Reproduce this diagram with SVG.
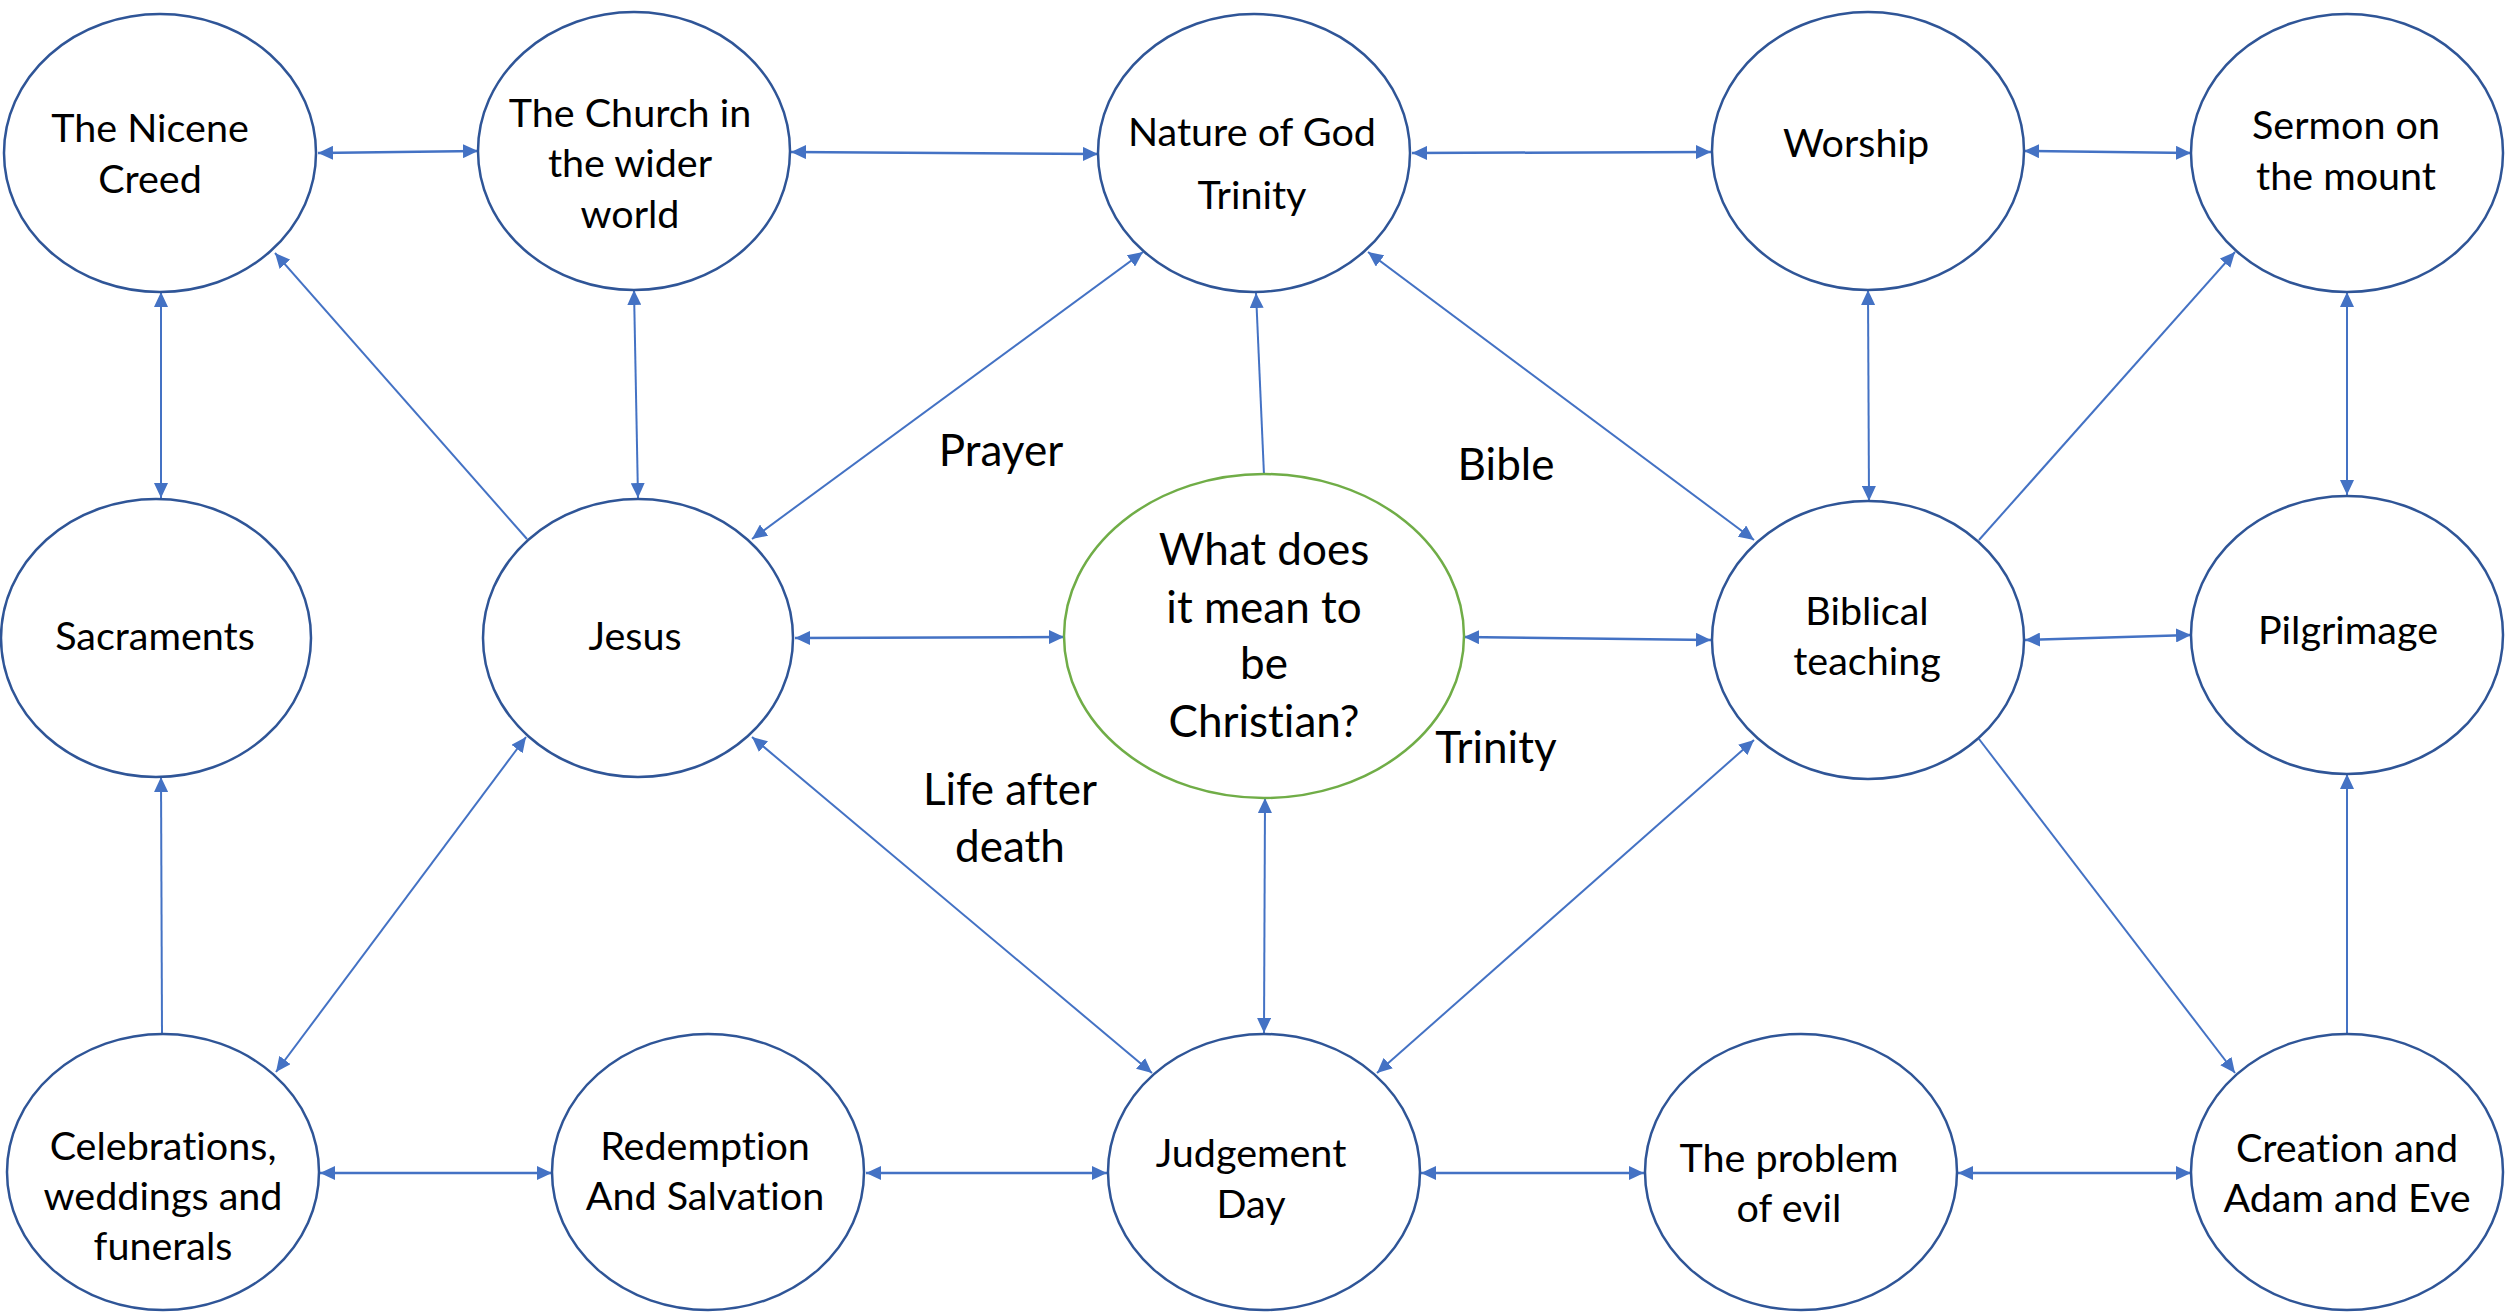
<svg xmlns="http://www.w3.org/2000/svg" width="2509" height="1312" viewBox="0 0 2509 1312">
<defs>
<style>
.n{fill:#fff;stroke:#2F5597;stroke-width:2.5}
.c{fill:#fff;stroke:#70AD47;stroke-width:2.5}
.t,.l{font-family:Lato,"Liberation Sans",sans-serif;fill:#000;text-anchor:middle;font-variant-ligatures:none;font-feature-settings:"liga" 0,"clig" 0}
.t{font-size:39.5px}
.l{font-size:44px}
.e{fill:none;stroke:#4472C4;stroke-width:2}
.h{stroke-width:2.5}
.b{marker-start:url(#ah);marker-end:url(#ah)}
.s{marker-end:url(#ah)}
</style>
<marker id="ah" markerUnits="userSpaceOnUse" markerWidth="16" markerHeight="14" refX="15" refY="7" orient="auto-start-reverse" viewBox="0 0 16 14">
<path d="M0,0 L15,7 L0,14 z" fill="#4472C4"/>
</marker>
</defs>
<rect width="2509" height="1312" fill="#fff"/>
<g id="connectors">
<line class="e h b" x1="318" y1="153" x2="478" y2="151"/>
<line class="e h b" x1="791" y1="152" x2="1098" y2="154"/>
<line class="e h b" x1="1412" y1="153" x2="1711" y2="152"/>
<line class="e h b" x1="2024" y1="151" x2="2191" y2="153"/>
<line class="e b" x1="161" y1="292" x2="161" y2="498"/>
<line class="e b" x1="634" y1="290" x2="638" y2="498"/>
<line class="e s" x1="527" y1="539" x2="275" y2="253"/>
<line class="e b" x1="752" y1="539" x2="1143" y2="252"/>
<line class="e s" x1="1264" y1="475" x2="1256" y2="293"/>
<line class="e b" x1="1754" y1="540" x2="1368" y2="252"/>
<line class="e b" x1="1868" y1="290" x2="1869" y2="501"/>
<line class="e s" x1="1979" y1="540" x2="2235" y2="252"/>
<line class="e b" x1="2347" y1="292" x2="2347" y2="495"/>
<line class="e h b" x1="795" y1="638" x2="1064" y2="637"/>
<line class="e h b" x1="1464" y1="637" x2="1711" y2="640"/>
<line class="e h b" x1="2025" y1="640" x2="2191" y2="635"/>
<line class="e s" x1="162" y1="1033" x2="161" y2="777"/>
<line class="e b" x1="276" y1="1072" x2="526" y2="737"/>
<line class="e b" x1="1152" y1="1073" x2="752" y2="737"/>
<line class="e b" x1="1265" y1="798" x2="1264" y2="1033"/>
<line class="e b" x1="1377" y1="1073" x2="1754" y2="740"/>
<line class="e s" x1="1979" y1="739" x2="2235" y2="1073"/>
<line class="e s" x1="2347" y1="1033" x2="2347" y2="774"/>
<line class="e h b" x1="320" y1="1173" x2="552" y2="1173"/>
<line class="e h b" x1="866" y1="1173" x2="1107" y2="1173"/>
<line class="e h b" x1="1421" y1="1173" x2="1644" y2="1173"/>
<line class="e h b" x1="1958" y1="1173" x2="2191" y2="1173"/>
</g>
<g id="labels">
<text class="l" x="1001" y="466">Prayer</text>
<text class="l" x="1506" y="480">Bible</text>
<text class="l" x="1496" y="763">Trinity</text>
<text class="l" x="1010" y="805">Life after</text>
<text class="l" x="1010" y="862">death</text>
</g>
<g id="n1"><ellipse class="n" cx="160" cy="153" rx="156" ry="139"/><text class="t"><tspan x="150" y="142">The Nicene</tspan><tspan x="150" y="193">Creed</tspan></text></g>
<g id="n2"><ellipse class="n" cx="634" cy="151" rx="156" ry="139"/><text class="t"><tspan x="630" y="127">The Church in</tspan><tspan x="630" y="177">the wider</tspan><tspan x="630" y="228">world</tspan></text></g>
<g id="n3"><ellipse class="n" cx="1254" cy="153" rx="156" ry="139"/><text class="t"><tspan x="1252" y="146">Nature of God</tspan><tspan x="1252" y="209">Trinity</tspan></text></g>
<g id="n4"><ellipse class="n" cx="1868" cy="151" rx="156" ry="139"/><text class="t" x="1856" y="157">Worship</text></g>
<g id="n5"><ellipse class="n" cx="2347" cy="153" rx="156" ry="139"/><text class="t"><tspan x="2346" y="139">Sermon on</tspan><tspan x="2346" y="190">the mount</tspan></text></g>
<g id="n6"><ellipse class="n" cx="156" cy="638" rx="155" ry="139"/><text class="t" x="155" y="650">Sacraments</text></g>
<g id="n7"><ellipse class="n" cx="638" cy="638" rx="155" ry="139"/><text class="t" x="635" y="650">Jesus</text></g>
<g id="n8"><ellipse class="c" cx="1264" cy="636" rx="200" ry="162"/><text class="l"><tspan x="1264" y="565">What does</tspan><tspan x="1264" y="623">it mean to</tspan><tspan x="1264" y="679">be</tspan><tspan x="1264" y="737">Christian?</tspan></text></g>
<g id="n9"><ellipse class="n" cx="1868" cy="640" rx="156" ry="139"/><text class="t"><tspan x="1867" y="625">Biblical</tspan><tspan x="1867" y="675">teaching</tspan></text></g>
<g id="n10"><ellipse class="n" cx="2347" cy="635" rx="156" ry="139"/><text class="t" x="2348" y="644">Pilgrimage</text></g>
<g id="n11"><ellipse class="n" cx="163" cy="1172" rx="156" ry="138"/><text class="t"><tspan x="163" y="1160">Celebrations,</tspan><tspan x="163" y="1210">weddings and</tspan><tspan x="163" y="1260">funerals</tspan></text></g>
<g id="n12"><ellipse class="n" cx="708" cy="1172" rx="156" ry="138"/><text class="t"><tspan x="705" y="1160">Redemption</tspan><tspan x="705" y="1210">And Salvation</tspan></text></g>
<g id="n13"><ellipse class="n" cx="1264" cy="1172" rx="156" ry="138"/><text class="t"><tspan x="1251" y="1167">Judgement</tspan><tspan x="1251" y="1218">Day</tspan></text></g>
<g id="n14"><ellipse class="n" cx="1801" cy="1172" rx="156" ry="138"/><text class="t"><tspan x="1789" y="1172">The problem</tspan><tspan x="1789" y="1222">of evil</tspan></text></g>
<g id="n15"><ellipse class="n" cx="2347" cy="1172" rx="156" ry="138"/><text class="t"><tspan x="2347" y="1162">Creation and</tspan><tspan x="2347" y="1212">Adam and Eve</tspan></text></g>
</svg>
